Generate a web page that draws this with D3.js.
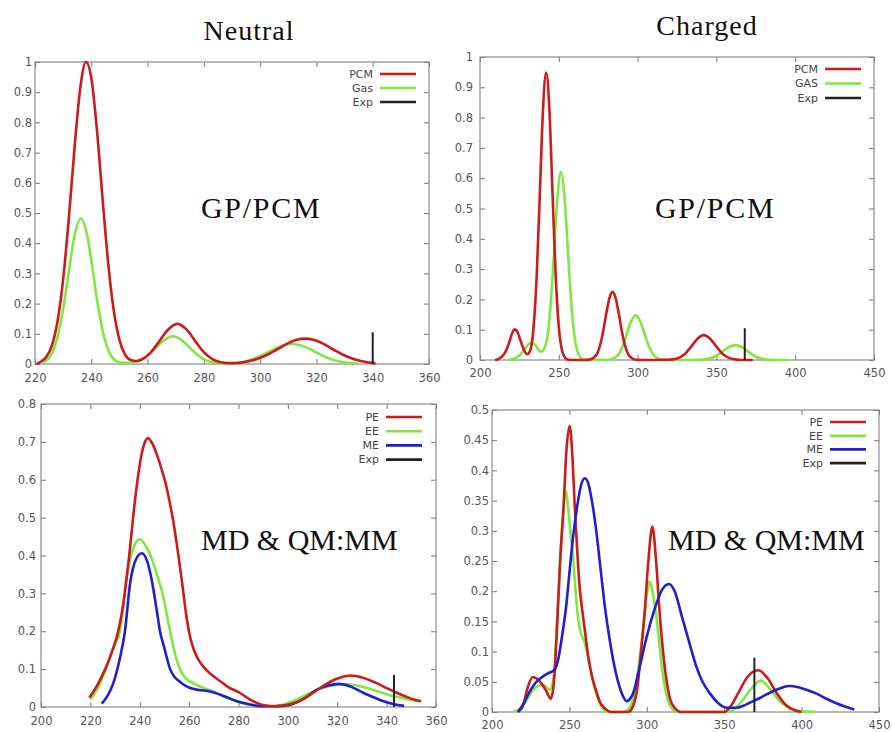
<!DOCTYPE html>
<html><head><meta charset="utf-8">
<script src="https://cdn.jsdelivr.net/npm/d3@7"></script>
<style>body{margin:0;background:#fff}svg{display:block}</style>
</head><body>
<script>
// ---------- data ----------
const neutralGpPCM = [[220.5,0],[222,0.007],[224,0.023],[226,0.061],[228,0.141],[230,0.28],[232,0.48],[234,0.71],[236,0.907],[238.1,1.0],[240,0.948],[242,0.776],[244,0.548],[246,0.334],[248,0.176],[250,0.08],[252,0.031],[254,0.013],[256,0.010],[258,0.015],[261,0.037],[264,0.073],[267,0.111],[270.6,0.133],[274,0.113],[277,0.075],[280,0.039],[283,0.016],[286,0.006],[290,0.003],[294,0.006],[298,0.014],[302,0.028],[306,0.048],[310,0.069],[313,0.080],[316,0.084],[319,0.080],[322,0.069],[326,0.048],[330,0.028],[334,0.014],[338,0.006],[341,0.002]];
const neutralGpGas = [[223,0.006],[224,0.011],[226,0.035],[228,0.088],[230,0.181],[232,0.305],[234,0.423],[236.3,0.482],[238.5,0.428],[240.5,0.312],[242.5,0.186],[244.5,0.092],[246.5,0.037],[248.5,0.012],[251,0.004],[254,0.004],[257,0.011],[260,0.028],[263,0.054],[266,0.080],[269,0.092],[272,0.080],[275,0.054],[278,0.028],[281,0.011],[284,0.004],[288,0.002],[292,0.004],[296,0.012],[300,0.026],[304,0.045],[308,0.061],[311.3,0.066],[315,0.060],[319,0.043],[323,0.024],[327,0.011],[331,0.004],[335,0.001]];
const chargedGpPCM = [[209.5,0],[212,0.004],[215,0.017],[217,0.036],[219,0.066],[220.5,0.09],[222.2,0.101],[224,0.09],[226,0.06],[228,0.032],[230,0.019],[232,0.033],[234,0.109],[236,0.281],[238,0.553],[240,0.829],[242,0.949],[244,0.829],[246,0.553],[248,0.281],[250,0.109],[252,0.032],[254,0.007],[256,0.001],[260,0],[266,0],[270,0.002],[274,0.018],[277,0.065],[280,0.149],[282,0.202],[284.1,0.225],[286,0.206],[288,0.155],[290,0.095],[292,0.048],[295,0.012],[299,0.001],[305,0],[320,0.001],[325,0.005],[330,0.020],[334,0.044],[338,0.070],[342,0.082],[346,0.070],[350,0.044],[354,0.020],[358,0.007],[362,0.002],[366,0],[373,0]];
const chargedGpGas = [[218,0],[222,0.005],[225,0.015],[228,0.033],[230.5,0.05],[232.8,0.057],[235,0.05],[237,0.034],[238.7,0.027],[240.5,0.035],[243,0.084],[245,0.194],[247,0.359],[249,0.528],[251.4,0.621],[253.5,0.548],[255.5,0.386],[257.5,0.217],[259.5,0.097],[262,0.026],[265,0.003],[268,0],[280,0],[285,0.006],[289,0.028],[292,0.067],[295,0.116],[298.8,0.148],[302,0.124],[305,0.077],[308,0.035],[311,0.012],[315,0.002],[320,0],[340,0.001],[345,0.004],[350,0.014],[354,0.028],[358,0.043],[362,0.049],[366,0.043],[370,0.028],[374,0.014],[379,0.004],[384,0.001],[390,0],[396,0]];
const neutralMdPE = [[219.6,0.025],[223,0.06],[226,0.1],[229,0.15],[231.1,0.195],[233.3,0.27],[235.7,0.398],[238.1,0.547],[240,0.64],[241.6,0.69],[243.3,0.71],[245,0.697],[247,0.665],[249,0.625],[250.5,0.59],[252,0.545],[253.6,0.49],[255,0.43],[256.3,0.37],[257.7,0.3],[259,0.235],[260.4,0.185],[262,0.15],[263.5,0.128],[265.8,0.106],[269,0.086],[272.6,0.068],[276,0.052],[280.7,0.037],[284,0.022],[287.4,0.011],[291,0.004],[295,0.002],[300,0.006],[305,0.017],[309,0.032],[313,0.05],[317,0.066],[321,0.077],[325.3,0.083],[330,0.078],[336,0.063],[340,0.05],[344.2,0.037],[348,0.027],[351,0.02],[354,0.015]];
const neutralMdEE = [[220,0.02],[223,0.05],[226.6,0.107],[229.5,0.16],[232,0.2],[233.2,0.26],[234.3,0.327],[236.5,0.4],[238.5,0.435],[240.1,0.443],[242,0.43],[244,0.405],[246,0.37],[247.7,0.335],[249.2,0.3],[250.8,0.25],[252.3,0.2],[254,0.148],[256.3,0.1],[258.5,0.077],[261.7,0.063],[265,0.052],[269.8,0.041],[275,0.025],[282,0.011],[288,0.004],[293,0.002],[298,0.006],[303,0.018],[308,0.034],[313,0.048],[318,0.057],[323,0.06],[328,0.057],[332,0.05],[337,0.04],[341,0.032],[345.5,0.025],[349,0.02],[352.7,0.015]];
const neutralMdME = [[224.6,0.009],[227,0.03],[229.3,0.063],[232,0.13],[234,0.2],[236.1,0.327],[238.5,0.39],[240.8,0.406],[243,0.385],[245,0.33],[247,0.25],[248.2,0.2],[250,0.155],[252.3,0.1],[254,0.08],[256,0.068],[258,0.058],[260.4,0.05],[264,0.045],[268.5,0.041],[272,0.034],[275.5,0.025],[279.3,0.015],[284,0.007],[290,0.002],[295,0.002],[301,0.006],[306,0.02],[311.8,0.046],[316,0.056],[320.6,0.061],[325,0.055],[330.7,0.037],[335,0.025],[338.8,0.015],[343,0.007],[347.1,0.003]];
const chargedMdPE = [[216.8,0],[220,0.01],[223,0.04],[226.3,0.058],[229,0.055],[232,0.047],[235,0.035],[238,0.022],[240,0.05],[242,0.14],[244,0.25],[246.3,0.343],[248,0.43],[250.2,0.474],[252,0.42],[253.4,0.343],[255,0.27],[256.5,0.21],[258,0.175],[260,0.135],[262,0.095],[264.5,0.06],[267.4,0.034],[270,0.015],[273,0.006],[277,0],[288,0],[291,0.009],[294,0.042],[296.3,0.1],[298.6,0.164],[301,0.25],[303.6,0.307],[306,0.25],[308.3,0.164],[310.5,0.1],[312.7,0.053],[315,0.022],[318,0.007],[322,0],[350,0],[354,0.009],[359,0.031],[365,0.058],[372,0.069],[378,0.056],[384,0.031],[389,0.014],[393,0.006],[400,0]];
const chargedMdEE = [[213.6,0],[218,0.005],[222,0.018],[226,0.035],[229,0.042],[233,0.045],[237.3,0.037],[240,0.06],[242,0.15],[243.7,0.233],[246,0.33],[247.6,0.366],[249.5,0.33],[251,0.29],[252.3,0.26],[254,0.2],[255.6,0.155],[257.5,0.13],[259.9,0.115],[262.5,0.085],[265.2,0.051],[268,0.025],[270.7,0.009],[275,0],[285,0],[287.8,0.004],[290,0.012],[292.2,0.031],[295,0.08],[297.5,0.136],[300,0.195],[301.9,0.216],[304,0.195],[307.2,0.136],[309.5,0.08],[311.6,0.042],[313.5,0.02],[315.9,0.007],[320,0],[352,0],[357,0.006],[362.1,0.02],[367,0.037],[373.6,0.052],[379,0.04],[385.8,0.018],[392,0.006],[400,0.001],[410,0]];
const chargedMdME = [[216.8,0],[220,0.012],[224.4,0.034],[228,0.048],[233,0.059],[237,0.065],[240.5,0.07],[243,0.09],[245.5,0.13],[248,0.177],[250,0.23],[252.3,0.288],[255,0.34],[257.5,0.375],[259.9,0.387],[262,0.38],[264.5,0.35],[267.4,0.299],[270,0.24],[272.8,0.177],[276,0.12],[279.3,0.073],[282,0.045],[284.5,0.027],[287,0.018],[291,0.03],[295,0.07],[300,0.125],[305,0.17],[310,0.203],[314.3,0.212],[318,0.2],[323,0.155],[328,0.11],[332,0.075],[336,0.05],[341,0.03],[346,0.015],[352,0.007],[358,0.007],[362,0.01],[367,0.016],[372,0.022],[378,0.03],[385,0.038],[392,0.043],[398,0.041],[404,0.036],[410,0.03],[416,0.022],[422,0.015],[428,0.009],[434,0.004]];
// experimental markers: [wavelength, height]
const expNeutralGp = [340, 0.105];
const expChargedGp = [368, 0.105];
const expNeutralMd = [343, 0.085];
const expChargedMd = [369.5, 0.09];
// axis ticks
const xTicksNeutralGp = [220,240,260,280,300,320,340,360];
const yTicksNeutralGp = [0,0.1,0.2,0.3,0.4,0.5,0.6,0.7,0.8,0.9,1];
const xTicksChargedGp = [200,250,300,350,400,450];
const yTicksChargedGp = [0,0.1,0.2,0.3,0.4,0.5,0.6,0.7,0.8,0.9,1];
const xTicksNeutralMd = [200,220,240,260,280,300,320,340,360];
const yTicksNeutralMd = [0,0.1,0.2,0.3,0.4,0.5,0.6,0.7,0.8];
const xTicksChargedMd = [200,250,300,350,400,450];
const yTicksChargedMd = [0,0.05,0.1,0.15,0.2,0.25,0.3,0.35,0.4,0.45,0.5];
const legendGpNeutral = ["PCM","Gas","Exp"];
const legendGpCharged = ["PCM","GAS","Exp"];
const legendMd = ["PE","EE","ME","Exp"];
const titles = ["Neutral","Charged"];
const labels = ["GP/PCM","MD & QM:MM"];

// ---------- drawing ----------
const RED="#cc1b1b", GREEN="#7fe840", BLUE="#1f1fd0", BLACK="#222";
const SERIF="'Liberation Serif','Times New Roman',serif";
const SANS="'DejaVu Sans',sans-serif";
const svg = d3.select("body").append("svg").attr("width",893).attr("height",732);

function panel(o){
  const x = d3.scaleLinear().domain(o.xd).range([o.l,o.r]);
  const y = d3.scaleLinear().domain(o.yd).range([o.b,o.t]);
  const g = svg.append("g");
  const tk = 5;
  const xAxB = d3.axisBottom(x).tickValues(o.xt).tickSize(-tk).tickPadding(o.xpad).tickFormat(d3.format("d"));
  const xAxT = d3.axisTop(x).tickValues(o.xt).tickSize(-tk).tickFormat("");
  const yAxL = d3.axisLeft(y).tickValues(o.yt).tickSize(-tk).tickPadding(o.ypad).tickFormat(d=>String(+d.toFixed(2)));
  const yAxR = d3.axisRight(y).tickValues(o.yt).tickSize(-tk).tickFormat("");
  [[xAxB,`translate(0,${o.b})`],[xAxT,`translate(0,${o.t})`],[yAxL,`translate(${o.l},0)`],[yAxR,`translate(${o.r},0)`]].forEach(([ax,tr])=>{
    const a = g.append("g").attr("transform",tr).call(ax);
    a.select(".domain").remove();
    a.selectAll("line").attr("stroke","#777").attr("stroke-width",1);
    a.selectAll("text").attr("fill","#555").style("font-family",SANS).style("font-size","11.5px");
  });
  g.append("rect").attr("x",o.l).attr("y",o.t).attr("width",o.r-o.l).attr("height",o.b-o.t)
    .attr("fill","none").attr("stroke","#8a8a8a").attr("stroke-width",1.2);
  const line = d3.line().x(d=>x(d[0])).y(d=>y(d[1])).curve(d3.curveMonotoneX);
  o.series.forEach(s=>{
    g.append("path").datum(s.data).attr("d",line).attr("fill","none")
      .attr("stroke",s.color).attr("stroke-width",2.6).attr("stroke-linejoin","round");
  });
  g.append("line").attr("x1",x(o.exp[0])).attr("x2",x(o.exp[0])).attr("y1",y(0)).attr("y2",y(o.exp[1]))
    .attr("stroke",BLACK).attr("stroke-width",2);
  o.legend.forEach((name,i)=>{
    const yy = o.legY + i*o.legDy;
    g.append("text").attr("x",o.legX).attr("y",yy).attr("dy","0.35em").attr("text-anchor","end")
      .attr("fill","#444").style("font-family",SANS).style("font-size","11px").text(name);
    g.append("line").attr("x1",o.legX+7).attr("x2",o.legX+43).attr("y1",yy).attr("y2",yy)
      .attr("stroke",o.legColors[i]).attr("stroke-width",2.6);
  });
  g.append("text").attr("x",o.labX).attr("y",o.labY).attr("fill","#111")
    .style("font-family",SERIF).style("font-size","30px").style("letter-spacing",o.labLs+"px").text(o.label);
}

panel({l:35,r:429,t:62,b:364,xd:[220,360],yd:[0,1],xt:xTicksNeutralGp,yt:yTicksNeutralGp,xpad:10,ypad:3,
  series:[{data:neutralGpGas,color:GREEN},{data:neutralGpPCM,color:RED}],exp:expNeutralGp,
  legend:legendGpNeutral,legColors:[RED,GREEN,BLACK],legX:373,legY:74,legDy:14,
  label:labels[0],labX:201,labY:218,labLs:1.7});
panel({l:480,r:874,t:57,b:360,xd:[200,450],yd:[0,1],xt:xTicksChargedGp,yt:yTicksChargedGp,xpad:9,ypad:7,
  series:[{data:chargedGpGas,color:GREEN},{data:chargedGpPCM,color:RED}],exp:expChargedGp,
  legend:legendGpCharged,legColors:[RED,GREEN,BLACK],legX:818,legY:69,legDy:14.5,
  label:labels[0],labX:655,labY:218,labLs:1.7});
panel({l:41,r:436,t:404,b:707,xd:[200,360],yd:[0,0.8],xt:xTicksNeutralMd,yt:yTicksNeutralMd,xpad:10,ypad:5,
  series:[{data:neutralMdEE,color:GREEN},{data:neutralMdME,color:BLUE},{data:neutralMdPE,color:RED}],exp:expNeutralMd,
  legend:legendMd,legColors:[RED,GREEN,BLUE,BLACK],legX:379,legY:417,legDy:14.2,
  label:labels[1],labX:201,labY:550,labLs:0});
panel({l:492,r:879,t:410,b:712,xd:[200,450],yd:[0,0.5],xt:xTicksChargedMd,yt:yTicksChargedMd,xpad:9,ypad:3,
  series:[{data:chargedMdEE,color:GREEN},{data:chargedMdPE,color:RED},{data:chargedMdME,color:BLUE}],exp:expChargedMd,
  legend:legendMd,legColors:[RED,GREEN,BLUE,BLACK],legX:823,legY:422,legDy:13.7,
  label:labels[1],labX:668,labY:550,labLs:0});

svg.append("text").attr("x",249).attr("y",40).attr("text-anchor","middle").attr("fill","#111")
  .style("font-family",SERIF).style("font-size","28px").style("letter-spacing","1px").text(titles[0]);
svg.append("text").attr("x",707).attr("y",35).attr("text-anchor","middle").attr("fill","#111")
  .style("font-family",SERIF).style("font-size","28px").style("letter-spacing","1px").text(titles[1]);
</script>
</body></html>
